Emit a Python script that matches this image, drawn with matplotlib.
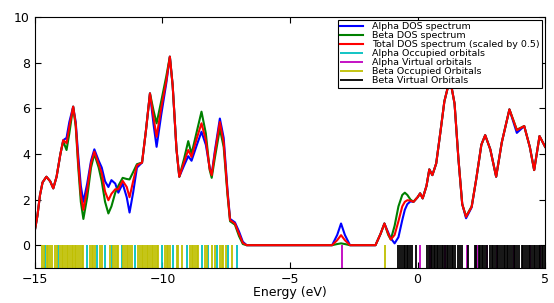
import matplotlib.pyplot as plt
import matplotlib as mpl

mpl.rcParams.update(
    {
        "font.family": "DejaVu Sans",
        "xtick.direction": "in",
        "ytick.direction": "in",
        "xtick.top": True,
        "ytick.right": True,
    }
)

# DOS curves (energy in eV)
energy = [
    -15.00, -14.90, -14.80, -14.70, -14.55, -14.40, -14.28, -14.15, -14.00, -13.89,
    -13.76, -13.65, -13.50, -13.40, -13.30, -13.20, -13.10, -12.95, -12.80, -12.67,
    -12.50, -12.38, -12.25, -12.12, -12.00, -11.85, -11.73, -11.56, -11.40, -11.29,
    -11.15, -11.00, -10.80, -10.65, -10.49, -10.35, -10.23, -10.05, -9.85, -9.71,
    -9.60, -9.45, -9.34, -9.15, -8.99, -8.86, -8.65, -8.47, -8.30, -8.15,
    -8.07, -7.95, -7.75, -7.60, -7.45, -7.35, -7.16, -7.00, -6.85, -6.70,
    -3.35, -3.15, -3.00, -2.85, -2.65, -1.65, -1.45, -1.30, -1.15, -1.05,
    -0.90, -0.75, -0.60, -0.50, -0.40, -0.28, -0.16, 0.00, 0.10, 0.20,
    0.35, 0.46, 0.58, 0.73, 0.90, 1.05, 1.27, 1.45, 1.60, 1.75,
    1.90, 2.12, 2.30, 2.50, 2.65, 2.85, 3.08, 3.30, 3.60, 3.89,
    4.18, 4.40, 4.57, 4.78, 5.00,
]
alpha_dos = [
    0.66, 1.30, 2.20, 2.75, 3.00, 2.80, 2.49, 3.00, 4.00, 4.60,
    4.70, 5.40, 6.07, 5.40, 3.90, 2.60, 1.90, 2.70, 3.70, 4.20,
    3.70, 3.40, 2.80, 2.55, 2.85, 2.70, 2.30, 2.70, 2.10, 1.43,
    2.30, 3.40, 3.62, 5.00, 6.65, 5.30, 4.31, 5.70, 7.10, 8.26,
    7.00, 4.20, 3.00, 3.50, 3.90, 3.70, 4.40, 4.97, 4.40, 3.40,
    3.10, 4.10, 5.55, 4.70, 2.40, 1.15, 1.00, 0.60, 0.15, 0.00,
    0.00, 0.45, 0.95, 0.45, 0.00, 0.00, 0.50, 0.95, 0.55, 0.30,
    0.08, 0.35, 1.10, 1.55, 1.80, 1.92, 1.90, 2.10, 2.27, 2.05,
    2.60, 3.32, 3.07, 3.58, 5.00, 6.30, 7.30, 6.20, 3.80, 1.80,
    1.18, 1.66, 2.90, 4.40, 4.82, 4.20, 3.00, 4.50, 5.95, 4.92,
    5.22, 4.30, 3.29, 4.78, 4.31,
]
beta_dos = [
    0.66, 1.30, 2.20, 2.75, 3.00, 2.80, 2.49, 3.00, 4.00, 4.55,
    4.17, 4.90, 6.07, 5.20, 3.40, 1.90, 1.15, 2.10, 3.40, 4.00,
    3.40, 2.80, 1.90, 1.39, 1.70, 2.30, 2.60, 2.95, 2.90, 2.88,
    3.20, 3.55, 3.62, 5.00, 6.65, 5.90, 5.34, 6.30, 7.40, 8.26,
    7.00, 4.20, 3.00, 3.80, 4.56, 4.00, 5.00, 5.85, 4.90, 3.30,
    2.95, 3.80, 5.10, 4.30, 2.20, 1.05, 0.90, 0.40, 0.05, 0.00,
    0.00, 0.05, 0.08, 0.05, 0.00, 0.00, 0.50, 0.95, 0.45, 0.25,
    0.85, 1.70, 2.20, 2.30, 2.20, 2.00, 1.90, 2.10, 2.27, 2.05,
    2.60, 3.32, 3.07, 3.58, 5.00, 6.30, 7.30, 6.20, 3.80, 1.80,
    1.26, 1.70, 2.90, 4.40, 4.82, 4.20, 3.00, 4.50, 5.95, 5.06,
    5.22, 4.30, 3.29, 4.78, 4.31,
]
total_dos = [
    0.66, 1.30, 2.20, 2.75, 3.00, 2.80, 2.49, 3.00, 4.00, 4.60,
    4.47, 5.20, 6.07, 5.30, 3.60, 2.20, 1.55, 2.45, 3.60, 4.10,
    3.55, 3.15, 2.35, 1.97, 2.25, 2.45, 2.45, 2.82, 2.55, 2.10,
    2.80, 3.50, 3.62, 5.00, 6.65, 5.60, 4.75, 6.00, 7.20, 8.26,
    7.00, 4.20, 3.00, 3.65, 4.17, 3.87, 4.70, 5.34, 4.60, 3.35,
    3.07, 4.00, 5.40, 4.50, 2.30, 1.10, 0.95, 0.50, 0.10, 0.00,
    0.00, 0.22, 0.44, 0.22, 0.00, 0.00, 0.50, 0.95, 0.50, 0.25,
    0.45, 1.05, 1.70, 1.90, 1.97, 1.95, 1.90, 2.10, 2.27, 2.05,
    2.60, 3.32, 3.07, 3.58, 5.00, 6.30, 7.30, 6.20, 3.80, 1.80,
    1.24, 1.68, 2.90, 4.40, 4.82, 4.20, 3.00, 4.50, 5.95, 5.04,
    5.22, 4.30, 3.29, 4.78, 4.31,
]

# orbital energies (sticks)
alpha_occupied = [
    -14.61, -14.08, -12.97, -12.58, -12.25, -11.99, -11.60, -11.08, -10.03, -9.58,
    -9.05, -8.46, -8.20, -7.88, -7.42, -7.09,
]
alpha_virtual = [-2.97, 0.10, 0.49, 1.08, 1.93, 2.32, 2.71, 3.11, 3.76, 4.41, 4.80]
beta_occupied = [
    -14.71, -14.65, -14.54, -14.48, -14.41, -14.32, -14.22, -14.15, -14.02, -13.95,
    -13.89, -13.82, -13.76, -13.70, -13.63, -13.56, -13.50, -13.44, -13.37, -13.30,
    -13.24, -13.17, -13.10, -12.84, -12.78, -12.71, -12.65, -12.45, -12.38, -12.06,
    -11.93, -11.86, -11.80, -11.73, -11.53, -11.47, -11.40, -11.34, -11.27, -11.21,
    -10.95, -10.88, -10.82, -10.75, -10.69, -10.62, -10.56, -10.49, -10.42, -10.36,
    -10.29, -10.22, -10.16, -9.90, -9.84, -9.77, -9.70, -9.44, -9.38, -9.25,
    -8.92, -8.85, -8.79, -8.72, -8.66, -8.59, -8.33, -8.26, -8.07, -7.95,
    -7.75, -7.68, -7.61, -7.50, -7.29, -1.27,
]
beta_virtual = [
    -0.75, -0.68, -0.62, -0.55, -0.49, -0.42, -0.36, -0.30, -0.23, -0.06,
    0.36, 0.46, 0.52, 0.56, 0.65, 0.70, 0.75, 0.82, 0.88, 0.95,
    1.01, 1.08, 1.14, 1.20, 1.27, 1.33, 1.40, 1.46, 1.60, 1.66,
    1.73, 1.99, 2.25, 2.30, 2.39, 2.45, 2.52, 2.58, 2.65, 2.72,
    2.84, 2.90, 2.97, 3.04, 3.11, 3.17, 3.24, 3.30, 3.37, 3.44,
    3.50, 3.56, 3.63, 3.70, 3.76, 3.83, 3.89, 3.96, 4.09, 4.15,
    4.22, 4.28, 4.35, 4.42, 4.48, 4.55, 4.61, 4.68, 4.74, 4.80,
    4.87, 4.93, 4.99,
]

fig = plt.figure(figsize=(5.54, 3.03), dpi=100)
ax = fig.add_axes([0.063, 0.1155, 0.921, 0.8285])

ax.plot(energy, alpha_dos, color="b", lw=1.5, label="Alpha DOS spectrum")
ax.plot(energy, beta_dos, color="g", lw=1.5, label="Beta DOS spectrum")
ax.plot(energy, total_dos, color="r", lw=1.5, label="Total DOS spectrum (scaled by 0.5)")
ax.vlines(alpha_occupied, -1, 0, color="c", lw=1.3, label="Alpha Occupied orbitals")
ax.vlines(alpha_virtual, -1, 0, color="m", lw=1.3, label="Alpha Virtual orbitals")
ax.vlines(beta_occupied, -1, 0, color="y", lw=1.3, label="Beta Occupied Orbitals")
ax.vlines(beta_virtual, -1, 0, color="k", lw=1.3, label="Beta Virtual Orbitals")

ax.set_xlim(-15, 5)
ax.set_ylim(-1, 10)
ax.set_xticks([-15, -10, -5, 0, 5])
ax.set_xticklabels(["\u221215", "\u221210", "\u22125", "0", "5"])
ax.set_yticks([0, 2, 4, 6, 8, 10])
ax.tick_params(labelsize=9, length=4, width=0.8)
ax.set_xlabel("Energy (eV)", fontsize=9, labelpad=0)

leg = ax.legend(
    loc="upper right",
    fontsize=6.8,
    labelspacing=0.0,
    handlelength=2.4,
    handletextpad=1.0,
    borderaxespad=0.3,
    borderpad=0.25,
    fancybox=False,
    framealpha=1,
)
leg.get_frame().set_edgecolor("black")
leg.get_frame().set_linewidth(0.8)

fig.savefig("out.png", dpi=100)
